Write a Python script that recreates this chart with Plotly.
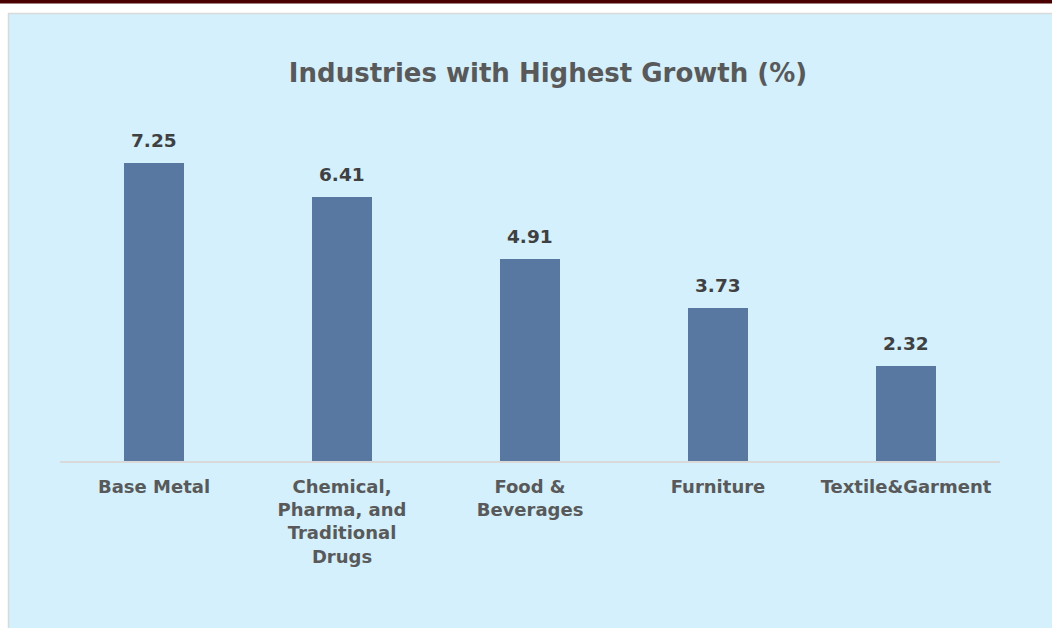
import plotly.graph_objects as go

categories = ["Base Metal", "Chemical,<br>Pharma, and<br>Traditional<br>Drugs",
              "Food &<br>Beverages", "Furniture", "Textile&Garment"]
values = [7.25, 6.41, 4.91, 3.73, 2.32]
value_labels = ["7.25", "6.41", "4.91", "3.73", "2.32"]

W, H = 1052, 628
L, R, T, B = 60, 52, 132, 167
PW, PH = W - L - R, H - T - B
FONT = "Verdana, DejaVu Sans, sans-serif"

fig = go.Figure()
fig.add_trace(go.Bar(
    x=categories, y=values,
    marker=dict(color="#5878a1", line=dict(width=0)),
    width=0.314,
    hoverinfo="skip",
))

annotations = [
    dict(x=c, y=v, text="<b>" + t + "</b>", showarrow=False,
         xref="x", yref="y", yanchor="bottom", yshift=10,
         font=dict(family=FONT, size=18.5, color="#404040"))
    for c, v, t in zip(categories, values, value_labels)
]

fig.update_layout(
    width=W, height=H,
    paper_bgcolor="white", plot_bgcolor="rgba(0,0,0,0)",
    margin=dict(l=L, r=R, t=T, b=B),
    showlegend=False,
    bargap=0,
    title=dict(text="<b>Industries with Highest Growth (%)</b>",
               x=548 / W, xanchor="center", y=1 - 73 / H, yanchor="middle",
               font=dict(family=FONT, size=26, color="#595959")),
    xaxis=dict(showline=True, linecolor="#d9d9d9", linewidth=2,
               ticks="", showgrid=False, ticklabelstandoff=8,
               tickfont=dict(family=FONT, size=18, color="#595959")),
    yaxis=dict(range=[0, 8], visible=False, showgrid=False, zeroline=False),
    annotations=annotations,
    shapes=[
        dict(type="rect", xref="paper", yref="paper",
             x0=-(L - 8.5) / PW, x1=1.1, y0=-1, y1=1 + (T - 13.5) / PH,
             fillcolor="#d3f0fc", line=dict(color="#d9d9d9", width=1.5),
             layer="below"),
        dict(type="rect", xref="paper", yref="paper",
             x0=-0.1, x1=1.1, y0=1 + (T - 3.5) / PH, y1=1 + T / PH + 0.01,
             fillcolor="#4a0000", line=dict(width=0), layer="above"),
    ],
)
fig.update_xaxes(tickprefix="<b>", ticksuffix="</b>")

fig.write_html("out.html", config={"displayModeBar": False, "staticPlot": True},
               post_script="document.body.style.margin='0px';document.body.style.padding='0px';")
